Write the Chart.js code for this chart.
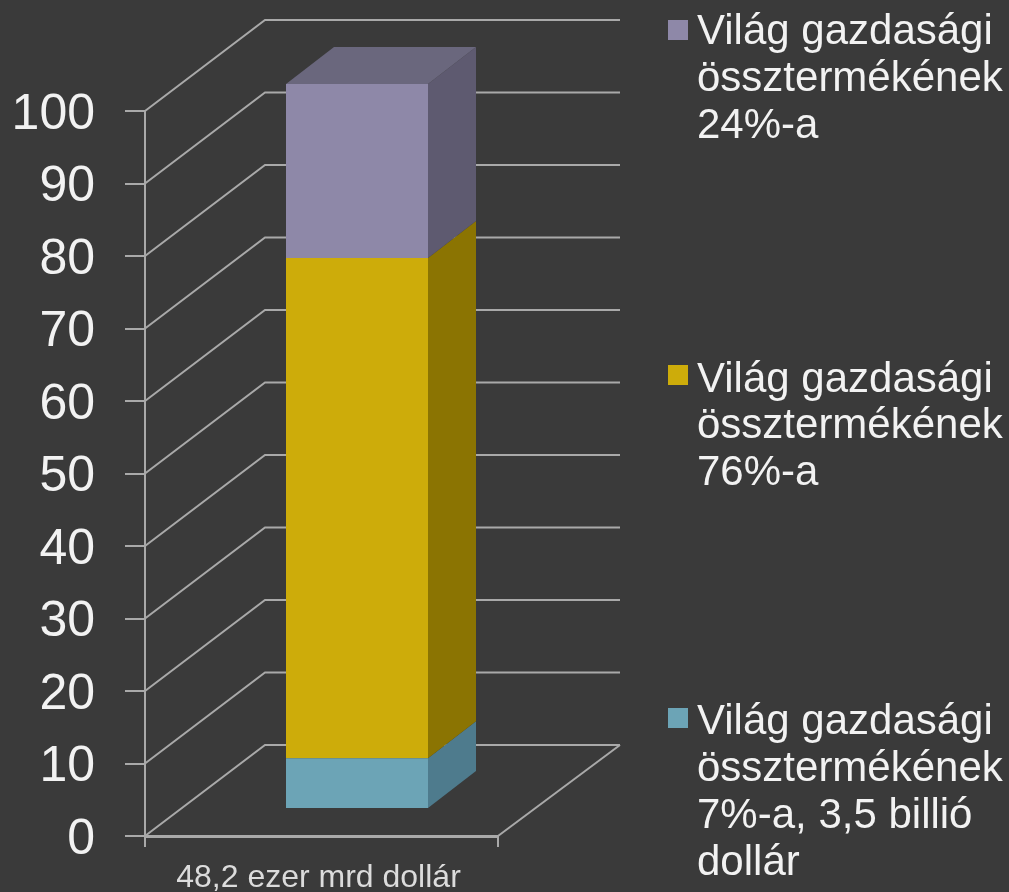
<!DOCTYPE html>
<html><head><meta charset="utf-8">
<script src="https://cdn.jsdelivr.net/npm/chart.js@4"></script>
<style>html,body{margin:0;padding:0;background:#3a3a3a}canvas{display:block}</style>
</head><body>
<div style="width:1009px;height:892px"><canvas id="c" width="1009" height="892"></canvas></div>
<script>
const categories = ["48,2 ezer mrd dollár"];
const tealValues = [7];
const yellowValues = [69];
const purpleValues = [24];
const tickStep = 10;
const legendPurple = ["Világ gazdasági", "össztermékének", "24%-a"];
const legendYellow = ["Világ gazdasági", "össztermékének", "76%-a"];
const legendTeal = ["Világ gazdasági", "össztermékének", "7%-a, 3,5 billió", "dollár"];

const FONT = '"Liberation Sans", Arial, sans-serif';
const WALL = {dx: 120, dy: -91};
const BAR = {dx: 35.5, dy: -27, depthX: 48, depthY: -37};
const LINE = '#a9a9a9';
const colors = {
  teal: {front: '#6ca4b6', side: '#4e7b8d'},
  yellow: {front: '#cdac0a', side: '#8b7402'},
  purple: {front: '#8e88a8', side: '#5e5a70', top: '#6a677d'}
};

const poly = (ctx, pts, fill) => {
  ctx.beginPath();
  pts.forEach((p, i) => i ? ctx.lineTo(p[0], p[1]) : ctx.moveTo(p[0], p[1]));
  ctx.closePath();
  ctx.fillStyle = fill;
  ctx.fill();
};

const threeD = {
  id: 'threeD',
  beforeDatasetsDraw(chart) {
    const {ctx, scales: {y}, chartArea: a} = chart;
    ctx.save();
    ctx.strokeStyle = LINE;
    ctx.lineWidth = 2;
    y.ticks.forEach(t => {
      const py = y.getPixelForValue(t.value);
      ctx.beginPath();
      ctx.moveTo(a.left, py);
      ctx.lineTo(a.left + WALL.dx, py + WALL.dy);
      ctx.lineTo(a.right + WALL.dx + 2, py + WALL.dy);
      ctx.stroke();
    });
    const py0 = y.getPixelForValue(0);
    ctx.beginPath();
    ctx.moveTo(a.right, py0);
    ctx.lineTo(a.right + WALL.dx + 2, py0 + WALL.dy);
    ctx.stroke();
    ctx.restore();

    // side and top faces of the bar, from the bar elements
    ctx.save();
    ctx.translate(BAR.dx, BAR.dy);
    const keys = ['teal', 'yellow', 'purple'];
    chart.data.datasets.forEach((ds, i) => {
      const el = chart.getDatasetMeta(i).data[0];
      const r = el.x + el.width / 2, l = el.x - el.width / 2;
      const c = colors[keys[i]];
      poly(ctx, [[r, el.base], [r + BAR.depthX, el.base + BAR.depthY],
                 [r + BAR.depthX, el.y + BAR.depthY], [r, el.y]], c.side);
      if (c.top) poly(ctx, [[l, el.y], [l + BAR.depthX, el.y + BAR.depthY],
                 [r + BAR.depthX, el.y + BAR.depthY], [r, el.y]], c.top);
    });
    ctx.restore();
    ctx.save();
    ctx.translate(BAR.dx, BAR.dy);
  },
  afterDatasetsDraw(chart) {
    chart.ctx.restore();
  },
  afterDraw(chart) {
    const {ctx} = chart;
    const blocks = [
      {lines: legendPurple, color: colors.purple.front, sy: 20, base: [44, 91, 138]},
      {lines: legendYellow, color: colors.yellow.front, sy: 365, base: [392, 438, 485]},
      {lines: legendTeal, color: colors.teal.front, sy: 708, base: [734, 781, 828, 875]}
    ];
    ctx.save();
    ctx.textAlign = 'left';
    ctx.textBaseline = 'alphabetic';
    ctx.font = '42px ' + FONT;
    blocks.forEach(b => {
      ctx.fillStyle = b.color;
      ctx.fillRect(668, b.sy, 20, 20);
      ctx.fillStyle = '#f2f2f2';
      b.lines.forEach((t, i) => ctx.fillText(t, 697, b.base[i]));
    });
    ctx.restore();
  }
};

new Chart(document.getElementById('c'), {
  type: 'bar',
  data: {
    labels: categories,
    datasets: [
      {label: 'teal', data: tealValues, backgroundColor: colors.teal.front},
      {label: 'yellow', data: yellowValues, backgroundColor: colors.yellow.front},
      {label: 'purple', data: purpleValues, backgroundColor: colors.purple.front}
    ]
  },
  plugins: [threeD],
  options: {
    responsive: false,
    animation: false,
    clip: false,
    datasets: {bar: {barPercentage: 142 / 353, categoryPercentage: 1}},
    layout: {padding: {top: 111, right: 511, left: 0, bottom: 0}},
    plugins: {legend: {display: false}, tooltip: {enabled: false}, title: {display: false}},
    scales: {
      x: {
        stacked: true,
        afterFit(s) { s.height = 56; s.paddingLeft = 0; s.paddingRight = 0; },
        grid: {drawOnChartArea: false, color: LINE, lineWidth: 2, tickLength: 11},
        border: {color: LINE, width: 3},
        ticks: {color: '#dcdcdc', font: {family: FONT, size: 32}, padding: 12, labelOffset: -3, maxRotation: 0}
      },
      y: {
        stacked: true,
        min: 0, max: 100,
        afterFit(s) { s.width = 145; s.paddingTop = 0; s.paddingBottom = 0; },
        grid: {drawOnChartArea: false, color: LINE, lineWidth: 2, tickLength: 20},
        border: {color: LINE, width: 2},
        ticks: {stepSize: tickStep, color: '#f2f2f2', font: {family: FONT, size: 50}, padding: 30, labelOffset: 4}
      }
    }
  }
});
</script>
</body></html>
